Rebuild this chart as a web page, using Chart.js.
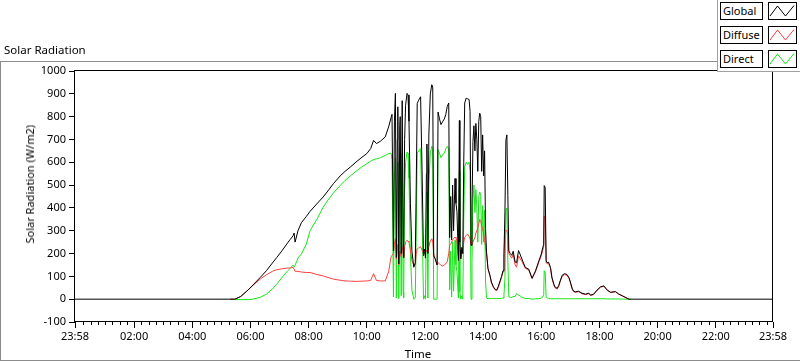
<!DOCTYPE html>
<html>
<head>
<meta charset="utf-8">
<script src="https://cdn.jsdelivr.net/npm/chart.js@4.4.1/dist/chart.umd.min.js"></script>
<style>
  body { margin: 0; background: #fff; font-family: 'Noto Sans', sans-serif; color: #000; }
  #wrap { position: relative; width: 800px; height: 361px; overflow: hidden; }
  #frame { position: absolute; left: 0; top: 61px; width: 830px; height: 298px; border: 1px solid #8c8c8c; }
  #c { position: absolute; left: 0; top: 0; }
  #title { position: absolute; left: 4px; top: 43px; font-size: 11.5px; line-height: 14px; }
  #ytitle { position: absolute; left: 23px; top: 125px; font-size: 11px; line-height: 14px; white-space: nowrap;
            writing-mode: vertical-rl; transform: rotate(180deg); font-weight: normal; }
  #xtitle { position: absolute; left: 418px; top: 353px; font-size: 11.5px; transform: translate(-50%, -50%); }
  #legend { position: absolute; left: 717px; top: -1px; width: 90px; height: 72px; background: #fff;
            border-left: 1px solid #a0a0a0; border-bottom: 1px solid #a0a0a0; }
  .lab, .smp { position: absolute; height: 18px; border: 1px solid #000; box-sizing: border-box; background: #fff; }
  .lab { left: 720px; width: 43px; font-size: 11px; line-height: 16px; padding-left: 2px; }
  .smp { left: 768px; width: 29px; }
  .smp svg { display: block; }
</style>
</head>
<body>
<div id="wrap">
  <div id="frame"></div>
  <canvas id="c" width="800" height="361"></canvas>
  <div id="title">Solar Radiation</div>
  <div id="ytitle">Solar Radiation (W/m2)</div>
  <div id="xtitle">Time</div>
  <div id="legend"></div>
  <div id="items"></div>
</div>
<script>
// minutes after midnight
const times = [
  -2, 318, 328, 340, 355, 365, 380, 393, 405, 414,
  425, 435, 442, 448, 450, 452, 458, 465, 475, 483,
  497, 510, 520, 531, 545, 555, 566, 580, 590, 600,
  608, 614, 620, 628, 638, 645, 650, 652, 655, 657,
  659, 661, 663, 664, 666, 668, 669, 671, 673, 675,
  676, 678, 680, 683, 685, 687, 690, 693, 697, 700,
  702, 704, 707, 711, 714, 717, 719, 721, 723, 724,
  726, 728, 731, 734, 736, 738, 741, 745, 747, 750,
  753, 757, 760, 763, 766, 769, 771, 773, 775, 777,
  779, 782, 784, 786, 789, 791, 792, 794, 796, 798,
  800, 802, 805, 808, 811, 813, 815, 817, 819, 821,
  823, 825, 827, 829, 831, 833, 835, 837, 839, 841,
  843, 845, 847, 850, 854, 857, 861, 864, 868, 871,
  875, 878, 881, 883, 885, 887, 889, 891, 893, 896,
  899, 902, 906, 909, 913, 916, 920, 927, 934, 941,
  948, 955, 960, 963, 965, 966, 968, 970, 972, 975,
  979, 982, 986, 989, 993, 996, 999, 1003, 1008, 1013,
  1017, 1020, 1024, 1027, 1030, 1037, 1044, 1051, 1058, 1062,
  1068, 1075, 1082, 1089, 1096, 1103, 1113, 1120, 1127, 1137,
  1141, 1145, 1438
];

const globalRad = [
  0, 0, 0, 12, 40, 62, 95, 125, 158, 182,
  212, 242, 262, 278, 290, 250, 300, 335, 362, 385,
  418, 448, 475, 506, 540, 560, 579, 605, 622, 638,
  660, 696, 682, 692, 711, 755, 795, 810, 212, 780,
  902, 183, 700, 843, 154, 760, 800, 200, 870, 230,
  183, 700, 850, 902, 895, 780, 418, 212, 140, 160,
  500, 858, 872, 887, 565, 190, 220, 180, 550, 680,
  200, 720, 900, 940, 930, 190, 177, 150, 820, 790,
  765, 780, 790, 810, 845, 860, 270, 450, 260, 500,
  300, 529, 420, 383, 170, 783, 250, 177, 227, 200,
  600, 860, 881, 878, 875, 823, 236, 400, 690, 760,
  650, 770, 700, 560, 780, 815, 800, 560, 720, 540,
  650, 310, 207, 134, 105, 75, 55, 45, 40, 55,
  80, 100, 125, 200, 383, 697, 720, 455, 212, 200,
  192, 210, 163, 160, 213, 198, 176, 139, 132, 92,
  124, 168, 198, 227, 240, 498, 490, 168, 160, 162,
  139, 95, 65, 51, 48, 60, 80, 105, 112, 108,
  95, 75, 45, 35, 32, 35, 26, 22, 26, 18,
  22, 40, 54, 58, 40, 30, 33, 22, 15, 4,
  0, 0, 0
];

const diffuseRad = [
  null, 0, 0, 12, 40, 60, 88, 107, 122, 129,
  133, 136, 137, 139, 132, 122, 122, 119, 117, 117,
  108, 102, 95, 88, 83, 80, 79, 78, 79, 80,
  82, 112, 82, 80, 80, 120, 185, 192, 200, 240,
  265, 175, 220, 240, 150, 210, 200, 185, 230, 200,
  180, 230, 250, 258, 255, 250, 215, 170, 148, 150,
  200, 220, 225, 230, 215, 200, 200, 205, 215, 210,
  205, 230, 255, 265, 255, 200, 177, 150, 160, 155,
  148, 145, 150, 155, 165, 200, 236, 240, 250, 260,
  265, 272, 268, 255, 170, 220, 215, 177, 210, 200,
  250, 270, 280, 285, 275, 265, 236, 240, 250, 260,
  270, 290, 300, 310, 330, 350, 345, 320, 310, 290,
  260, 230, 201, 134, 103, 73, 52, 42, 37, 50,
  75, 96, 120, 180, 295, 302, 300, 280, 200, 190,
  180, 195, 150, 140, 190, 180, 165, 135, 128, 90,
  120, 163, 190, 215, 230, 365, 360, 160, 155, 157,
  135, 92, 62, 48, 45, 57, 78, 100, 108, 104,
  92, 72, 42, 32, 30, 33, 24, 20, 24, 16,
  20, 38, 52, 58, 38, 30, 33, 22, 15, 4,
  0, null, null
];

const directRad = [
  null, 0, -2, -2, -2, 0, 8, 22, 45, 65,
  95, 120, 135, 150, 142, 148, 180, 198, 240, 300,
  350, 403, 435, 465, 498, 520, 540, 564, 580, 594,
  605, 612, 615, 620, 630, 638, 640, 612, 10, 540,
  620, 5, 480, 600, 2, 550, 600, 15, 640, 30,
  5, 470, 600, 645, 640, 530, 200, 40, 0, 5,
  300, 640, 650, 660, 350, 0, 15, 0, 330, 470,
  5, 500, 640, 670, 665, 0, 0, 0, 655, 640,
  620, 635, 640, 660, 670, 660, 40, 210, 10, 250,
  35, 260, 150, 120, 5, 560, 30, 0, 15, 0,
  350, 580, 600, 590, 600, 560, 0, 160, 440, 500,
  380, 480, 400, 250, 450, 470, 455, 240, 410, 250,
  390, 80, 5, 2, 3, 3, 3, 3, 3, 3,
  3, 3, 5, 20, 90, 390, 400, 170, 10, 8,
  8, 12, 12, 25, 18, 15, 8, 3, 3, 0,
  2, 2, 5, 10, 20, 125, 120, 8, 5, 3,
  2, 2, 2, 2, 2, 2, 2, 2, 2, 2,
  2, 2, 2, 2, 2, 2, 2, 2, 2, 2,
  2, 2, 2, 2, 1, 1, 1, 1, 0, 0,
  0, 0, null
];

const majorTicks = [-2, 120, 240, 360, 480, 600, 720, 840, 960, 1080, 1200, 1320, 1438];
const seriesNames = ['Global', 'Diffuse', 'Direct'];
const seriesColors = ['#000000', '#ff4040', '#14e614'];

function pts(vals) {
  return times.map((t, i) => ({ x: t, y: vals[i] }));
}

function timeLabel(v) {
  if (v < 0 || v >= 1438) return '23:58';
  const h = Math.floor(v / 60), m = v % 60;
  return String(h).padStart(2, '0') + ':' + String(m).padStart(2, '0');
}

// legend boxes
const items = document.getElementById('items');
seriesNames.forEach((name, i) => {
  const top = 2 + i * 24;
  items.insertAdjacentHTML('beforeend',
    `<div class="lab" style="top:${top}px">${name}</div>` +
    `<div class="smp" style="top:${top}px"><svg width="27" height="16">` +
    `<polyline points="1,13 8.5,3 16.5,13 25,2.5" fill="none" stroke="${seriesColors[i]}" stroke-width="1"/></svg></div>`);
});

const tickFont = { family: "'Noto Sans'", size: 11 };

const framePlugin = {
  id: 'frame',
  afterDraw(chart) {
    const { ctx, chartArea: a, scales: { x } } = chart;
    ctx.save();
    ctx.strokeStyle = '#000';
    ctx.lineWidth = 1;
    ctx.strokeRect(a.left - 0.5, a.top - 0.5, a.right - a.left, a.bottom - a.top);
    // minor ticks every 15 min
    ctx.beginPath();
    for (let t = 15; t < 1438; t += 15) {
      if (t % 120 === 0) continue;
      const px = Math.round(x.getPixelForValue(t)) + 0.5;
      ctx.moveTo(px, a.bottom);
      ctx.lineTo(px, a.bottom + 3);
    }
    ctx.stroke();
    ctx.restore();
  }
};

new Chart(document.getElementById('c'), {
  type: 'line',
  data: {
    datasets: seriesNames.map((name, i) => ({
      label: name,
      data: pts([globalRad, diffuseRad, directRad][i]),
      borderColor: seriesColors[i],
      borderWidth: 1,
      pointRadius: 0,
      tension: 0,
      spanGaps: false
    }))
  },
  options: {
    responsive: false,
    animation: false,
    layout: { padding: { top: 71, right: 27, left: 0, bottom: 0 } },
    plugins: { legend: { display: false }, tooltip: { enabled: false } },
    scales: {
      x: {
        type: 'linear',
        min: -2,
        max: 1438,
        afterBuildTicks: s => { s.ticks = majorTicks.map(v => ({ value: v })); },
        afterFit: s => { s.height = 39; },
        border: { display: false },
        grid: { drawOnChartArea: false, tickLength: 6, color: '#000' },
        ticks: { autoSkip: false, maxRotation: 0, padding: 2, color: '#000', font: tickFont, callback: v => timeLabel(v) }
      },
      y: {
        min: -100,
        max: 1000,
        afterFit: s => { s.width = 75; },
        border: { display: false },
        grid: { drawOnChartArea: false, tickLength: 6, color: '#000' },
        ticks: { stepSize: 100, padding: 3, color: '#000', font: tickFont, callback: v => String(v) }
      }
    }
  },
  plugins: [framePlugin]
});
</script>
</body>
</html>
